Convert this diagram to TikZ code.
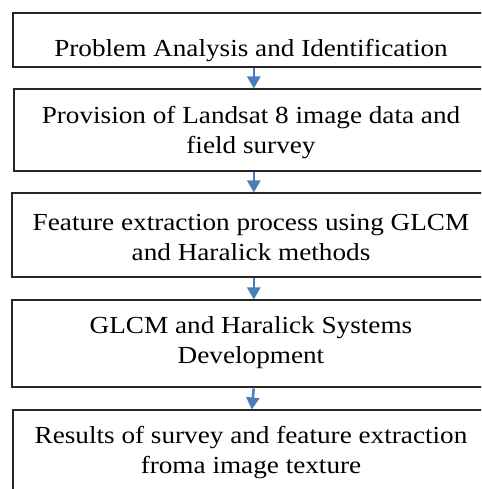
\documentclass[tikz,border=0pt]{standalone}
\usepackage{fontspec}
\setmainfont[FakeStretch=1.11]{Liberation Serif}
\usetikzlibrary{arrows.meta}
\definecolor{arrblue}{HTML}{4A7EBB}
\begin{document}
\begin{tikzpicture}[x=1pt,y=1pt,
  box/.style={draw=black!85,line width=1.6pt,rectangle,inner sep=0pt,anchor=north west,minimum width=478pt},
  txt/.style={align=center,inner sep=0pt,font=\fontsize{24.5}{30}\selectfont},
  arr/.style={draw=arrblue,line width=2.5pt,-{Triangle[length=12pt,width=13pt]},shorten <=0.8pt,shorten >=-0.5pt}]
\useasboundingbox (0,0) rectangle (481,489);
\clip (0,0) rectangle (481,489);
\node[box,minimum height=54pt] (b1) at (12,477) {};
\node[box,minimum height=82pt] (b2) at (13,401) {};
\node[box,minimum height=84pt] (b3) at (11,297) {};
\node[box,minimum height=87pt] (b4) at (11,190) {};
\node[box,minimum height=90pt] (b5) at (12,80) {};
\node[txt] (t1) at (251,438.5) {Problem Analysis and Identification};
\node[txt] (t2) at (251,356) {Provision of Landsat 8 image data and\\field survey};
\node[txt] (t3) at (251,251.5) {Feature extraction process using GLCM\\and Haralick methods};
\node[txt] (t4) at (251,146.5) {GLCM and Haralick Systems\\Development};
\node[txt] (t5) at (251,36.5) {Results of survey and feature extraction\\froma image texture};
\draw[arr] ([xshift=2pt]b1.south) -- ([xshift=1pt]b2.north);
\draw[arr] ([xshift=1pt]b2.south) -- ([xshift=3pt]b3.north);
\draw[arr] ([xshift=3pt]b3.south) -- ([xshift=3pt]b4.north);
\draw[arr] ([xshift=3pt]b4.south) -- ([xshift=0pt]b5.north);
\end{tikzpicture}
\end{document}
